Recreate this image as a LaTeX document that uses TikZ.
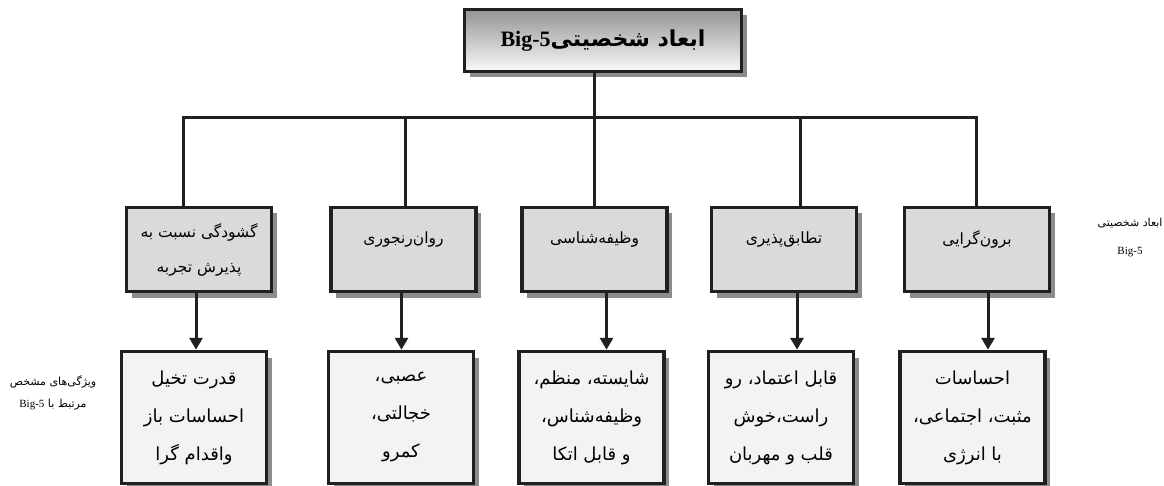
\documentclass[tikz,border=0pt]{standalone}
\usepackage{fontspec}
\setmainfont{Liberation Serif}
\newfontfamily\fafont[Script=Arabic]{DejaVu Sans}
\TeXXeTstate=1
\usetikzlibrary{arrows.meta,positioning,calc,shadows}
\definecolor{linegray}{HTML}{231F20}
\definecolor{midfill}{HTML}{D9DADC}
\definecolor{lowfill}{HTML}{F2F3F3}
\newcommand{\fa}[1]{{\fafont\beginR #1\endR}}
\newcommand{\lat}[1]{\beginL{\rmfamily #1}\endL}

\begin{document}
\begin{tikzpicture}[x=1pt, y=-1pt,
    boxshadow/.style={drop shadow={shadow xshift=5pt, shadow yshift=-6pt, fill=black!45, opacity=1}},
    topbox/.style={draw=linegray, line width=3.5pt, minimum width=277pt, minimum height=62pt, top color=black!42, bottom color=black!2, boxshadow},
    midbox/.style={draw=linegray, line width=3.5pt, minimum width=145pt, minimum height=84pt, fill=midfill, boxshadow},
    lowbox/.style={draw=linegray, line width=3.5pt, minimum width=145pt, minimum height=132pt, fill=lowfill, boxshadow, align=center, font=\fontsize{18}{38}\selectfont},
    midtext/.style={align=center, font=\fontsize{15.5}{35}\selectfont},
    side/.style={align=center, font=\fontsize{11}{28}\selectfont},
    link/.style={line width=3pt, draw=linegray},
    arrow/.style={link, -{Triangle[width=13pt,length=12pt]}},
]
\useasboundingbox (0,0) rectangle (1164,486);

% Title
\node[topbox, font=\fontsize{22}{26}\selectfont\bfseries] (top) at (603,40.5) {\fa{ابعاد شخصیتی\lat{Big-5}}};

% Traits
\node[midbox] (m1) at (199,249.5) {};
\node[midbox] (m2) at (403.5,249.5) {};
\node[midbox] (m3) at (594.5,249.5) {};
\node[midbox] (m4) at (784,249.5) {};
\node[midbox] (m5) at (977,249.5) {};

\node[midtext] (t1) at (m1) {\fa{گشودگی نسبت به}\\\fa{پذیرش تجربه}};
\node[midtext] (t2) at ($(m2)+(0,-10)$) {\fa{روان‌رنجوری}};
\node[midtext] (t3) at ($(m3)+(0,-10)$) {\fa{وظیفه‌شناسی}};
\node[midtext] (t4) at ($(m4)+(0,-10)$) {\fa{تطابق‌پذیری}};
\node[midtext] (t5) at ($(m5)+(0,-10)$) {\fa{برون‌گرایی}};

% Characteristics
\node[lowbox] (b1) at (194,417.5) {\fa{قدرت تخیل}\\\fa{احساسات باز}\\\fa{واقدام گرا}};
\node[lowbox] (b2) at (401,417.5) {\fa{عصبی،}\\\fa{خجالتی،}\\\fa{کمرو}};
\node[lowbox] (b3) at (591.5,417.5) {\fa{شایسته، منظم،}\\\fa{وظیفه‌شناس،}\\\fa{و قابل اتکا}};
\node[lowbox] (b4) at (781,417.5) {\fa{قابل اعتماد، رو}\\\fa{راست،خوش}\\\fa{قلب و مهربان}};
\node[lowbox] (b5) at (972.5,417.5) {\fa{احساسات}\\\fa{مثبت، اجتماعی،}\\\fa{با انرژی}};

% Side notes
\node[side] (nr) at (1130,238) {\fa{ابعاد شخصیتی}\\Big-5};
\node[side, font=\fontsize{11}{22}\selectfont] (nl) at (53,393) {\fa{ویژگی‌های مشخص}\\\fa{مرتبط با \lat{Big-5}}};

% Connectors
\coordinate (bus) at (594.5,118);
\draw[link] (top.south -| m3.north) -- (m3.north);
\foreach \m/\dx in {m1/-16, m2/1.5, m4/16, m5/-1}
  \draw[link] ($(\m.north)+(\dx,0)$) |- (bus);

\foreach \m/\b/\dx in {m1/b1/-3, m2/b2/-2, m3/b3/12, m4/b4/13, m5/b5/11}
  \draw[arrow] ($(\m.south)+(\dx,0)$) coordinate (a) -- (a |- \b.north);

\end{tikzpicture}
\end{document}
